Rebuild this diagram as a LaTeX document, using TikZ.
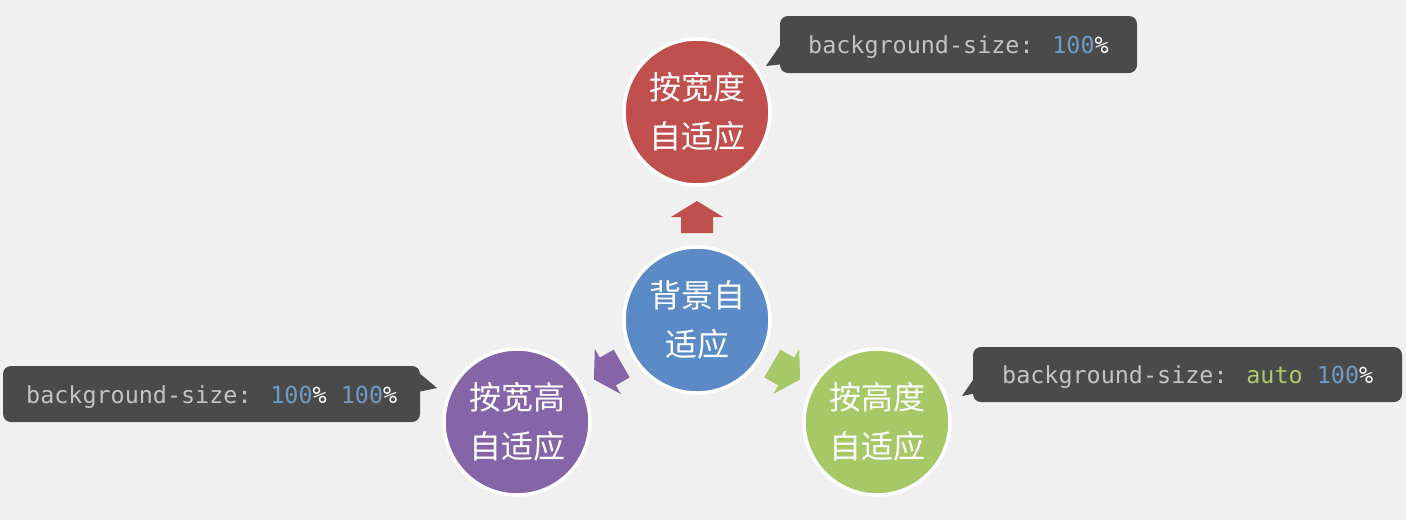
\documentclass[tikz,border=0pt]{standalone}
\usepackage{fontspec}
\newfontfamily\cjk{Noto Sans CJK SC}
\newfontfamily\codefont{DejaVu Sans Mono}
\definecolor{bgc}{HTML}{F0F0F0}
\definecolor{cred}{HTML}{C0504D}
\definecolor{cblue}{HTML}{5B8BC6}
\definecolor{cpurple}{HTML}{8565A8}
\definecolor{cgreen}{HTML}{A6C867}
\definecolor{boxc}{HTML}{4A4A4A}
\definecolor{codegray}{HTML}{C4C4C4}
\definecolor{codeblue}{HTML}{6C9BC6}
\definecolor{codegreen}{HTML}{AFC86E}
\tikzset{
  bubble/.style={circle, draw=white, line width=3.5pt, minimum size=146pt, inner sep=0pt,
    text=white, align=center, font=\cjk\fontsize{32}{49}\selectfont},
  tipbox/.style={fill=boxc, rounded corners=8pt},
  code/.style={anchor=base west, inner sep=0pt, font=\codefont\fontsize{23.4}{27}\selectfont, text=codegray},
}
\newcommand{\blockarrow}[2]{%
  \begin{scope}[shift={(697,320)}, rotate=#1]
    \fill[#2] (0,-119) -- (26,-103) -- (16,-103) -- (16,-87) -- (-16,-87) -- (-16,-103) -- (-26,-103) -- cycle;
  \end{scope}}
\begin{document}
\begin{tikzpicture}[x=1pt, y=-1pt]
\useasboundingbox (0,0) rectangle (1406,520);
\fill[bgc] (0,0) rectangle (1406,520);

% circles
\node[bubble, fill=cred] (w) at (697,112) {按宽度\\自适应};
\node[bubble, fill=cblue] (c) at (697,320) {背景自\\适应};
\node[bubble, fill=cpurple] (wh) at (517,422) {按宽高\\自适应};
\node[bubble, fill=cgreen] (h) at (877,422) {按高度\\自适应};

% block arrows
\blockarrow{0}{cred}
\blockarrow{120}{cpurple}
\blockarrow{-120}{cgreen}

% callout top
\fill[boxc] (781,44) -- (766,66) -- (784,64) -- cycle;
\node[tipbox, minimum width=357pt, minimum height=57pt, inner sep=0pt] (t1) at (958.5,44.5) {};
\node[code] (t1t) at (808,53) {background-size: \textcolor{codeblue}{100}\textcolor{white}{\%}};

% callout left
\fill[boxc] (418,372) -- (437,388) -- (418,392) -- cycle;
\node[tipbox, minimum width=417pt, minimum height=56pt, inner sep=0pt] (t2) at (211.5,394) {};
\node[code] (t2t) at (26,403) {background-size: \textcolor{codeblue}{100}\textcolor{white}{\%} \textcolor{codeblue}{100}\textcolor{white}{\%}};

% callout right
\fill[boxc] (975,377) -- (962,396) -- (977,393) -- cycle;
\node[tipbox, minimum width=429pt, minimum height=55pt, inner sep=0pt] (t3) at (1187.5,374.5) {};
\node[code] (t3t) at (1002,383) {background-size: \textcolor{codegreen}{auto} \textcolor{codeblue}{100}\textcolor{white}{\%}};
\end{tikzpicture}
\end{document}
